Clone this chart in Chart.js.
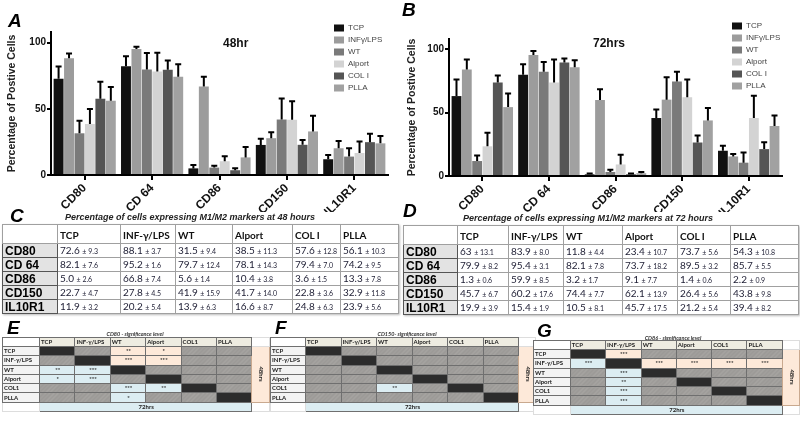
<!DOCTYPE html>
<html>
<head>
<meta charset="utf-8">
<script src="https://cdn.jsdelivr.net/npm/chart.js@4.4.1/dist/chart.umd.min.js"></script>
<style>
body { margin:0; width:800px; height:421px; position:relative; overflow:hidden; background:#fff; font-family:Arial, "Liberation Sans", sans-serif; }
.abs { position:absolute; }
.plab { position:absolute; font:italic bold 19px Arial; line-height:19px; color:#000; }
.ttl { position:absolute; font:bold 12px Arial; line-height:12px; color:#111; }
.tabt { position:absolute; font:italic bold 9px Arial; line-height:10px; color:#222; white-space:nowrap; }
.dt { position:absolute; border-collapse:collapse; table-layout:fixed; font-family:Lato, sans-serif; box-shadow:1px 1px 2px #bbb; }
.dt td { border:1px solid #a0a0a0; padding:0 0 0 2px; font-size:10px; line-height:11px; color:#1d1d33; white-space:nowrap; overflow:hidden; }
.dt td.hd { font-weight:bold; color:#111; vertical-align:bottom; padding-bottom:2px; }
.dt td.rl { background:#e3e3e3; font:bold 12px Arial; line-height:12px; color:#000; border:1px solid #555; }
.dt .pm { font-size:7px; }
.mxt { position:absolute; font:italic bold 5.5px Lato, sans-serif; color:#333; white-space:nowrap; transform:translateX(-50%); }
.mx { position:absolute; border-collapse:collapse; table-layout:fixed; font:bold 6px Lato, sans-serif; color:#222; }
.mx td { border:1px solid #6f6f6f; padding:0 0 0 1px; text-align:center; white-space:nowrap; overflow:hidden; line-height:6px; }
.mx td.lab { text-align:left; background:#f3f3f3; }
.mx td.hd { text-align:left; background:#eeece1; }
.mx td.d { background:#2c2c2c; }
.mx td.g { background:repeating-linear-gradient(135deg,#a6a4a1 0 1px,#9c9a97 1px 3px); }
.mx td.up { background:#fde9d9; }
.mx td.lo { background:#dcedf2; }
.mx td.side { background:#fde9d9; border-color:#c9a98f; }
.mx td.side span { display:inline-block; transform:rotate(90deg); font-size:6px; }
.mx td.bot { background:#dcedf2; }
.mx td.blank { background:#fff; border-color:#ddd; }
</style>
</head>
<body>

<canvas id="chartA" class="abs" width="400" height="212" style="left:0;top:0"></canvas>
<canvas id="chartB" class="abs" width="400" height="212" style="left:400px;top:0"></canvas>

<div class="plab" style="left:8px;top:11px">A</div>
<div class="plab" style="left:402px;top:0px">B</div>
<div class="ttl" style="left:223px;top:37px">48hr</div>
<div class="ttl" style="left:593px;top:37px">72hrs</div>

<div class="plab" style="left:10px;top:206px">C</div>
<div class="plab" style="left:403px;top:201px">D</div>
<div class="tabt" style="left:65px;top:212px">Percentage of cells expressing M1/M2 markers at 48 hours</div>
<div class="tabt" style="left:463px;top:213px">Percentage of cells expressing M1/M2 markers at 72 hours</div>
<table id="tabC" class="dt" style="left:2px;top:224px"></table>
<table id="tabD" class="dt" style="left:403px;top:225px"></table>

<div class="plab" style="left:7px;top:318px">E</div>
<div class="plab" style="left:275px;top:318px">F</div>
<div class="plab" style="left:537px;top:321px">G</div>
<div class="mxt" style="left:135px;top:331px">CD80 -  significance level</div>
<div class="mxt" style="left:407px;top:331px">CD150-  significance level</div>
<div class="mxt" style="left:673px;top:335px">CD86 -  significance level</div>
<table id="mxE" class="mx" style="left:2px;top:337px"></table>
<table id="mxF" class="mx" style="left:270px;top:337px"></table>
<table id="mxG" class="mx" style="left:533px;top:340px"></table>

<script>
// marcadores y grupos
const markers = ['CD80', 'CD 64', 'CD86', 'CD150', 'IL10R1'];
const groups = ['TCP', 'INFγ/LPS', 'WT', 'Alport', 'COL I', 'PLLA'];
const tableHeads = ['TCP', 'INF-γ/LPS', 'WT', 'Alport', 'COL I', 'PLLA'];
const matrixHeads = ['TCP', 'INF-γ/LPS', 'WT', 'Alport', 'COL1', 'PLLA'];
const barColors = ['#111111', '#9c9c9c', '#7a7a7a', '#d3d3d3', '#555555', '#a1a1a1'];
const yTicks = [0, 50, 100];

// 48 horas (media y error por grupo, en orden de markers)
const tcp48 = [72.6, 82.1, 5.0, 22.7, 11.9];
const inf48 = [88.1, 95.2, 66.8, 27.8, 20.2];
const wt48 = [31.5, 79.7, 5.6, 41.9, 13.9];
const alport48 = [38.5, 78.1, 10.4, 41.7, 16.6];
const col48 = [57.6, 79.4, 3.6, 22.8, 24.8];
const plla48 = [56.1, 74.2, 13.3, 32.9, 23.9];
const tcp48Err = [9.3, 7.6, 2.6, 4.7, 3.2];
const inf48Err = [3.7, 1.6, 7.4, 4.5, 5.4];
const wt48Err = [9.4, 12.4, 1.4, 15.9, 6.3];
const alport48Err = [11.3, 14.3, 3.8, 14.0, 8.7];
const col48Err = [12.8, 7.0, 1.5, 3.6, 6.3];
const plla48Err = [10.3, 9.5, 7.8, 11.8, 5.6];

// 72 horas
const tcp72 = [63, 79.9, 1.3, 45.7, 19.9];
const inf72 = [83.9, 95.4, 59.9, 60.2, 15.4];
const wt72 = [11.8, 82.1, 3.2, 74.4, 10.5];
const alport72 = [23.4, 73.7, 9.1, 62.1, 45.7];
const col72 = [73.7, 89.5, 1.4, 26.4, 21.2];
const plla72 = [54.3, 85.7, 2.2, 43.8, 39.4];
const tcp72Err = [13.1, 8.2, 0.6, 6.7, 3.9];
const inf72Err = [8.0, 3.1, 8.5, 17.6, 1.9];
const wt72Err = [4.4, 7.8, 1.7, 7.7, 8.1];
const alport72Err = [10.7, 18.2, 7.7, 13.9, 17.5];
const col72Err = [5.6, 3.2, 0.6, 5.6, 5.4];
const plla72Err = [10.8, 5.5, 0.9, 9.8, 8.2];

// significancia (arriba de la diagonal = 48hrs, abajo = 72hrs, 'x' = diagonal)
const sigCD80 = [
  ['x', '', '**', '*', '', ''],
  ['', 'x', '***', '***', '', ''],
  ['**', '***', 'x', '', '', ''],
  ['*', '***', '', 'x', '', ''],
  ['', '', '***', '**', 'x', ''],
  ['', '', '*', '', '', 'x']
];
const sigCD150 = [
  ['x', '', '', '', '', ''],
  ['', 'x', '', '', '', ''],
  ['', '', 'x', '', '', ''],
  ['', '', '', 'x', '', ''],
  ['', '', '**', '', 'x', ''],
  ['', '', '', '', '', 'x']
];
const sigCD86 = [
  ['x', '***', '', '', '', ''],
  ['***', 'x', '***', '***', '***', '***'],
  ['', '***', 'x', '', '', ''],
  ['', '**', '', 'x', '', ''],
  ['', '***', '', '', 'x', ''],
  ['', '***', '', '', '', 'x']
];

const means48 = [tcp48, inf48, wt48, alport48, col48, plla48];
const errs48 = [tcp48Err, inf48Err, wt48Err, alport48Err, col48Err, plla48Err];
const means72 = [tcp72, inf72, wt72, alport72, col72, plla72];
const errs72 = [tcp72Err, inf72Err, wt72Err, alport72Err, col72Err, plla72Err];

// barras de error solo hacia arriba
const errorBars = {
  id: 'errorBars',
  afterDatasetsDraw(chart) {
    const ctx = chart.ctx, y = chart.scales.y;
    ctx.save();
    ctx.strokeStyle = '#000';
    ctx.lineWidth = 2;
    chart.data.datasets.forEach((ds, i) => {
      chart.getDatasetMeta(i).data.forEach((bar, j) => {
        const top = y.getPixelForValue(ds.data[j] + ds.err[j]);
        ctx.beginPath();
        ctx.moveTo(bar.x, bar.y);
        ctx.lineTo(bar.x, top);
        ctx.moveTo(bar.x - 3, top);
        ctx.lineTo(bar.x + 3, top);
        ctx.stroke();
      });
    });
    ctx.restore();
  }
};

// leyenda a mano, dentro del área
const boxLegend = {
  id: 'boxLegend',
  afterDraw(chart, args, opts) {
    const ctx = chart.ctx;
    ctx.save();
    ctx.font = '8px Arial';
    ctx.textBaseline = 'middle';
    chart.data.datasets.forEach((ds, i) => {
      const yy = opts.y + i * 12;
      ctx.fillStyle = ds.backgroundColor;
      ctx.fillRect(opts.x, yy - 3.5, 10, 7);
      ctx.fillStyle = '#444';
      ctx.fillText(ds.label, opts.x + 14, yy);
    });
    ctx.restore();
  }
};

function makeChart(id, means, errs, pad, yWidth, xHeight, leg) {
  new Chart(document.getElementById(id), {
    type: 'bar',
    data: {
      labels: markers,
      datasets: groups.map((g, i) => ({
        label: g, data: means[i], err: errs[i],
        backgroundColor: barColors[i], borderWidth: 0,
        barPercentage: 0.95, categoryPercentage: 0.93
      }))
    },
    options: {
      responsive: false, animation: false, devicePixelRatio: 1,
      layout: { padding: pad },
      plugins: { legend: { display: false }, tooltip: { enabled: false }, boxLegend: leg },
      scales: {
        x: {
          offset: true,
          grid: { offset: false, drawOnChartArea: false, tickLength: 5, color: '#000', lineWidth: 2 },
          border: { color: '#000', width: 2 },
          ticks: { maxRotation: 45, minRotation: 45, padding: 1, color: '#111', font: { family: 'Arial', weight: 'bold', size: 12 } },
          afterFit: s => { s.height = xHeight; }
        },
        y: {
          min: 0, max: 108,
          afterBuildTicks: s => { s.ticks = yTicks.map(v => ({ value: v })); },
          grid: { drawOnChartArea: false, tickLength: 4, color: '#000', lineWidth: 2 },
          border: { color: '#000', width: 2 },
          ticks: { padding: 1, color: '#111', font: { family: 'Arial', weight: 'bold', size: 10 } },
          title: { display: true, text: 'Percentage of Postive Cells', color: '#222', padding: { top: 6, bottom: 0 }, font: { family: 'Arial', weight: 'bold', size: 10.5 } },
          afterFit: s => { s.width = yWidth; }
        }
      }
    },
    plugins: [errorBars, boxLegend]
  });
}

makeChart('chartA', means48, errs48, { top: 32, right: 12 }, 51, 37, { x: 334, y: 28 });
makeChart('chartB', means72, errs72, { top: 39, right: 18 }, 49, 36, { x: 332, y: 26 });

// tablas C y D
function fmt(v) { return Number.isInteger(v) && v >= 10 ? String(v) : v.toFixed(1); }
function buildTable(id, means, errs, widths) {
  let h = '<colgroup>' + widths.map(w => `<col style="width:${w}px">`).join('') + '</colgroup>';
  h += '<tr style="height:19px"><td style="background:#fff"></td>' + tableHeads.map(t => `<td class="hd">${t}</td>`).join('') + '</tr>';
  markers.forEach((m, r) => {
    h += `<tr style="height:14px"><td class="rl">${m}</td>`;
    groups.forEach((g, c) => {
      h += `<td>${fmt(means[c][r])} <span class="pm">± ${errs[c][r].toFixed(1)}</span></td>`;
    });
    h += '</tr>';
  });
  document.getElementById(id).innerHTML = h;
}
buildTable('tabC', means48, errs48, [55, 63, 55, 57, 60, 48, 58]);
buildTable('tabD', means72, errs72, [54, 51, 55, 59, 55, 53, 68]);

// matrices E, F, G
function buildMatrix(id, sig, labW, cellW, sideW) {
  let h = '<colgroup><col style="width:' + labW + 'px">' + matrixHeads.map(() => `<col style="width:${cellW}px">`).join('') + `<col style="width:${sideW}px"></colgroup>`;
  h += '<tr style="height:9px"><td class="lab" style="background:#fff"></td>' + matrixHeads.map(t => `<td class="hd">${t}</td>`).join('') + '<td class="blank"></td></tr>';
  sig.forEach((row, r) => {
    h += `<tr style="height:9.3px"><td class="lab">${matrixHeads[r]}</td>`;
    row.forEach((s, c) => {
      let cls = 'g';
      if (s === 'x') cls = 'd';
      else if (s) cls = c > r ? 'up' : 'lo';
      h += `<td class="${cls}">${s === 'x' ? '' : s}</td>`;
    });
    if (r === 0) h += '<td class="side" rowspan="6"><span>48hrs</span></td>';
    h += '</tr>';
  });
  h += '<tr style="height:9px"><td class="blank"></td><td class="bot" colspan="6">72hrs</td><td class="blank"></td></tr>';
  document.getElementById(id).innerHTML = h;
}
buildMatrix('mxE', sigCD80, 37, 35.4, 9);
buildMatrix('mxF', sigCD150, 35, 35.5, 10);
buildMatrix('mxG', sigCD86, 37, 35.7, 7);
</script>
</body>
</html>
